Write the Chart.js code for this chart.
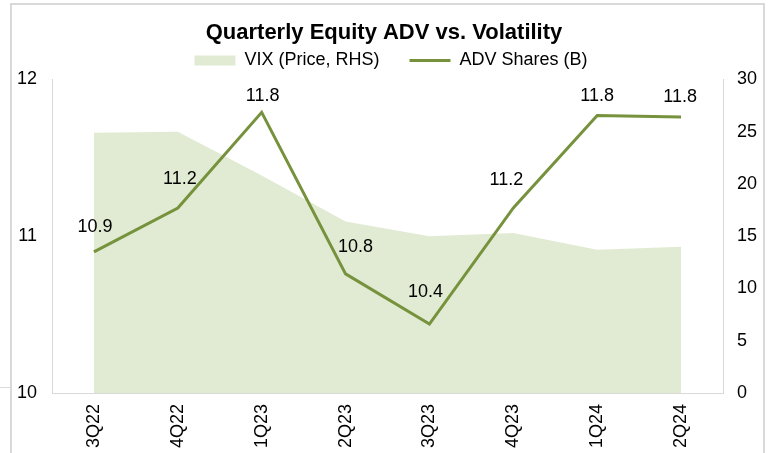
<!DOCTYPE html>
<html>
<head>
<meta charset="utf-8">
<title>Quarterly Equity ADV vs. Volatility</title>
<script src="https://cdn.jsdelivr.net/npm/chart.js@4/dist/chart.umd.min.js"></script>
<style>
  html, body { margin: 0; padding: 0; background: #fff; }
  #wrap { position: relative; width: 768px; height: 453px; overflow: hidden; }
  #frame {
    position: absolute; left: 10px; top: 3px; width: 751px; height: 470px;
    border: 2px solid #d9d9d9; border-bottom: none; pointer-events: none;
  }
  #notch { position: absolute; left: 0; top: 387px; width: 10px; height: 1px; background: #d9d9d9; }
</style>
</head>
<body>
<div id="wrap">
  <canvas id="chart" width="768" height="453"></canvas>
  <div id="frame"></div>
  <div id="notch"></div>
</div>
<script>
// quarters on the x axis
const quarters = ["3Q22", "4Q22", "1Q23", "2Q23", "3Q23", "4Q23", "1Q24", "2Q24"];
// average daily volume, billions of shares (left axis)
const advShares = [10.90, 11.18, 11.79, 10.76, 10.44, 11.18, 11.77, 11.76];
// VIX price (right axis)
const vixPrice = [24.9, 25.0, 20.8, 16.4, 15.0, 15.3, 13.7, 14.0];
// axis ranges and steps
const advRange = [10, 12, 1];
const vixRange = [0, 30, 5];

const FONT = "'Liberation Sans', Arial, sans-serif";
const LINE_GREEN = "#76923c";
const AREA_GREEN = "#e1ebd3";
const AXIS_GREY = "#d9d9d9";

// small hand nudges so the value labels sit clear of the line
const labelNudge = [[1, -25], [2, -29], [1, -16], [10, -27], [-4, -32], [-7, -28], [0, -19], [-1, -20]];

const valueLabels = {
  id: "valueLabels",
  afterDatasetsDraw(chart) {
    const meta = chart.getDatasetMeta(1);
    const ctx = chart.ctx;
    ctx.save();
    ctx.font = "18px " + FONT;
    ctx.fillStyle = "#000";
    ctx.textAlign = "center";
    ctx.textBaseline = "middle";
    meta.data.forEach((pt, i) => {
      const [dx, dy] = labelNudge[i] || [0, -24];
      ctx.fillText(advShares[i].toFixed(1), pt.x + dx, pt.y + dy);
    });
    ctx.restore();
  }
};

// legend row sits a little right of true centre
const legendShift = {
  id: "legendShift",
  afterLayout(chart) {
    chart.legend.left += 7;
    chart.legend.right += 7;
  }
};

new Chart(document.getElementById("chart"), {
  type: "line",
  data: {
    labels: quarters,
    datasets: [
      {
        label: "VIX (Price, RHS)",
        data: vixPrice,
        yAxisID: "y1",
        order: 1,
        fill: "origin",
        backgroundColor: AREA_GREEN,
        borderColor: AREA_GREEN,
        borderWidth: 0,
        pointRadius: 0,
        tension: 0
      },
      {
        label: "ADV Shares (B)",
        data: advShares,
        yAxisID: "y",
        order: 0,
        fill: false,
        borderColor: LINE_GREEN,
        backgroundColor: LINE_GREEN,
        borderWidth: 3,
        pointRadius: 0,
        tension: 0
      }
    ]
  },
  options: {
    responsive: false,
    animation: false,
    events: [],
    layout: { padding: 0 },
    plugins: {
      title: {
        display: true,
        text: "Quarterly Equity ADV vs. Volatility",
        color: "#000",
        font: { family: FONT, size: 22, weight: "bold" },
        padding: { top: 20, bottom: -25 }
      },
      legend: {
        display: true,
        maxHeight: 58.6,
        labels: {
          color: "#000",
          font: { family: FONT, size: 18 },
          usePointStyle: true,
          pointStyleWidth: 41,
          boxHeight: 10,
          padding: 30,
          sort: (a, b) => a.datasetIndex - b.datasetIndex,
          generateLabels(chart) {
            return chart.data.datasets.map((ds, i) => ({
              text: ds.label,
              datasetIndex: i,
              fillStyle: i === 0 ? AREA_GREEN : LINE_GREEN,
              strokeStyle: i === 0 ? AREA_GREEN : LINE_GREEN,
              lineWidth: i === 0 ? 0 : 3,
              pointStyle: i === 0 ? "rect" : "line",
              fontColor: "#000",
              hidden: false
            }));
          }
        }
      },
      tooltip: { enabled: false }
    },
    scales: {
      x: {
        offset: true,
        grid: { display: false, drawTicks: false },
        border: { display: true, color: AXIS_GREY, width: 1 },
        ticks: {
          color: "#000",
          font: { family: FONT, size: 18 },
          minRotation: 90,
          maxRotation: 90,
          padding: 11,
          autoSkip: false
        },
        afterFit(scale) { scale.height = 60; }
      },
      y: {
        position: "left",
        min: advRange[0],
        max: advRange[1],
        grid: { display: false, drawTicks: false },
        border: { display: true, color: AXIS_GREY, width: 1 },
        ticks: {
          stepSize: advRange[2],
          color: "#000",
          font: { family: FONT, size: 18 },
          padding: 15
        },
        afterFit(scale) { scale.width = 52; }
      },
      y1: {
        position: "right",
        min: vixRange[0],
        max: vixRange[1],
        grid: { display: false, drawTicks: false },
        border: { display: true, color: AXIS_GREY, width: 1 },
        ticks: {
          stepSize: vixRange[2],
          color: "#000",
          font: { family: FONT, size: 18 },
          padding: 14
        },
        afterFit(scale) { scale.width = 45; }
      }
    }
  },
  plugins: [valueLabels, legendShift]
});
</script>
</body>
</html>
